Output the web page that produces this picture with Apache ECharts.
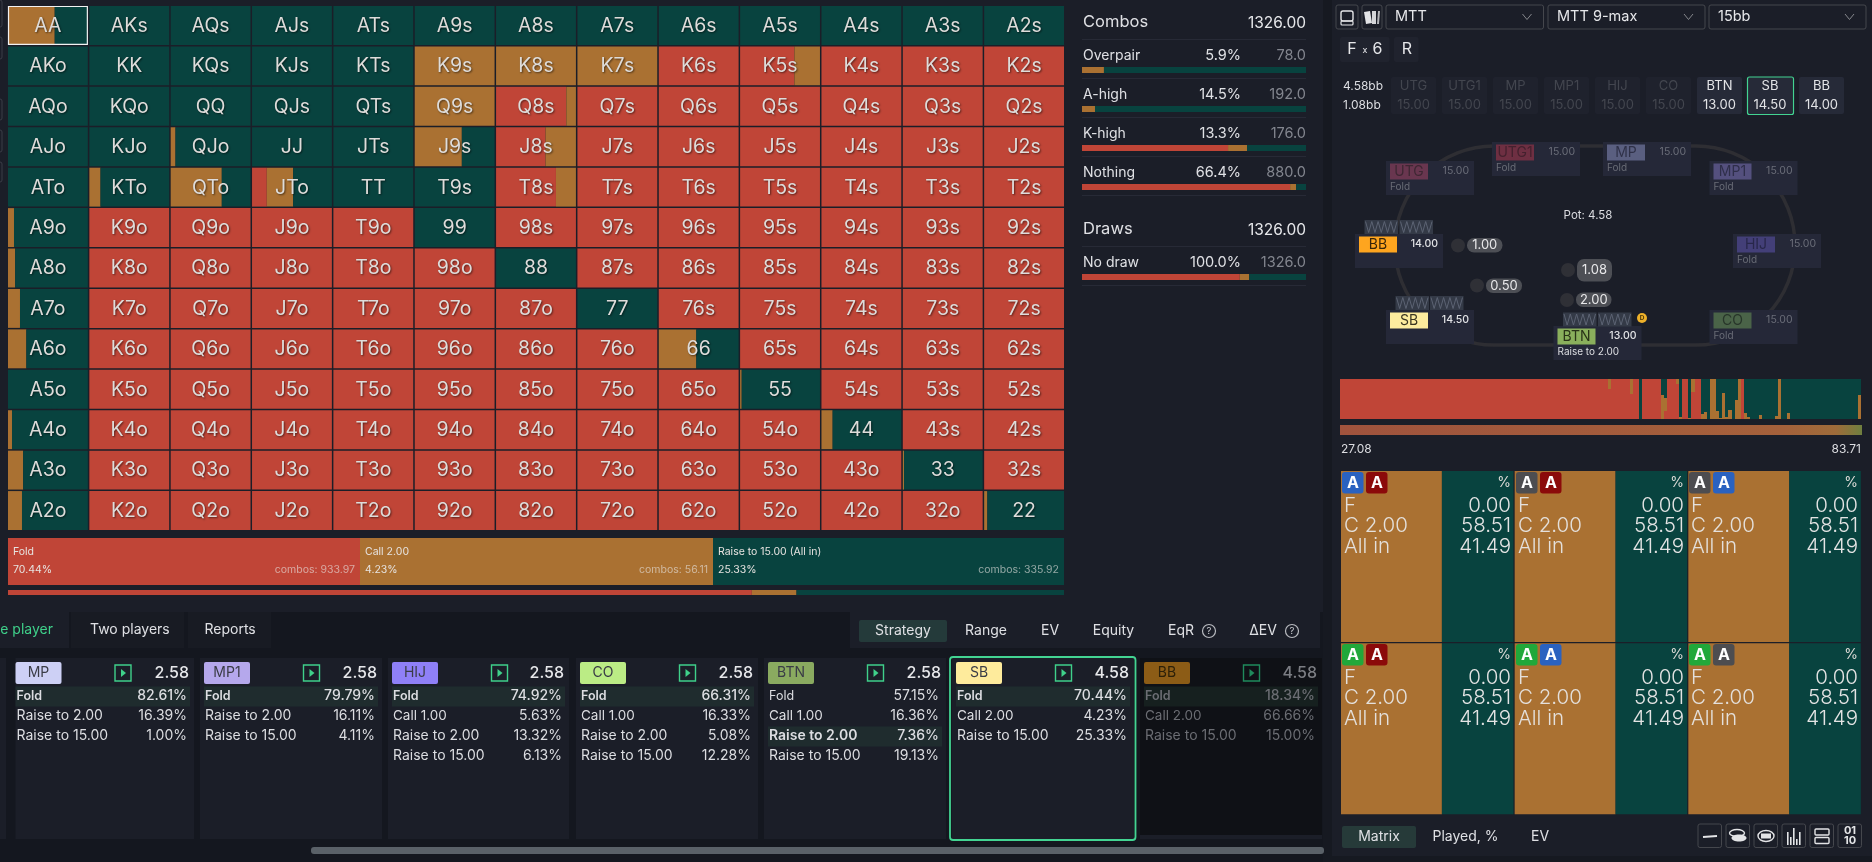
<!DOCTYPE html>
<html>
<head>
<meta charset="utf-8">
<title>Range</title>
<style>
  html, body { margin: 0; padding: 0; background: #1b1e28; }
  #chart { width: 1872px; height: 862px; }
</style>
<script src="https://cdn.jsdelivr.net/npm/echarts@6/dist/echarts.min.js"></script>
</head>
<body>
<div id="chart"></div>
<script>
const RED = '#c04537', ORANGE = '#aa7132', GREEN = '#08433f';
const FONT = 'Inter';

const ranks = ['A', 'K', 'Q', 'J', 'T', '9', '8', '7', '6', '5', '4', '3', '2'];

// share of each hand, %, the rest is the raise
const cellFold = [
  [0, 0, 0, 0, 0, 0, 0, 0, 0, 0, 0, 0, 0],
  [0, 0, 0, 0, 0, 0, 0, 0, 100, 68, 100, 100, 100],
  [0, 0, 0, 0, 0, 0, 88, 100, 100, 100, 100, 100, 100],
  [0, 0, 0, 0, 0, 0, 62, 100, 100, 100, 100, 100, 100],
  [0, 0, 0, 18.5, 0, 0, 75, 100, 100, 100, 100, 100, 100],
  [0, 100, 100, 100, 100, 0, 100, 100, 100, 100, 100, 100, 100],
  [0, 100, 100, 100, 100, 100, 0, 100, 100, 100, 100, 100, 100],
  [0, 100, 100, 100, 100, 100, 100, 0, 100, 100, 100, 100, 100],
  [0, 100, 100, 100, 100, 100, 100, 100, 0, 100, 100, 100, 100],
  [0, 100, 100, 100, 100, 100, 100, 100, 100, 0, 100, 100, 100],
  [0, 100, 100, 100, 100, 100, 100, 100, 100, 100, 0, 100, 100],
  [0, 100, 100, 100, 100, 100, 100, 100, 100, 100, 100, 0, 100],
  [0, 100, 100, 100, 100, 100, 100, 100, 100, 100, 100, 100, 0]
];
const cellCall = [
  [58.51, 0, 0, 0, 0, 0, 0, 0, 0, 0, 0, 0, 0],
  [0, 0, 0, 0, 0, 100, 100, 100, 0, 32, 0, 0, 0],
  [0, 0, 0, 0, 0, 100, 12, 0, 0, 0, 0, 0, 0],
  [0, 0, 6, 0, 0, 59, 38, 0, 0, 0, 0, 0, 0],
  [0, 14, 64, 33, 0, 0, 25, 0, 0, 0, 0, 0, 0],
  [7.5, 0, 0, 0, 0, 0, 0, 0, 0, 0, 0, 0, 0],
  [9, 0, 0, 0, 0, 0, 0, 0, 0, 0, 0, 0, 0],
  [15, 0, 0, 0, 0, 0, 0, 0, 0, 0, 0, 0, 0],
  [23, 0, 0, 0, 0, 0, 0, 0, 47, 0, 0, 0, 0],
  [0, 0, 0, 0, 0, 0, 0, 0, 0, 2, 0, 0, 0],
  [5, 0, 0, 0, 0, 0, 0, 0, 0, 0, 14, 0, 0],
  [19, 0, 0, 0, 0, 0, 0, 0, 0, 0, 0, 1.5, 0],
  [17.5, 0, 0, 0, 0, 0, 0, 0, 0, 0, 0, 0, 4]
];

// hands sorted by equity, strip above the combo matrix
const stripFold = [
  100, 100, 100, 100, 100, 100, 100, 100, 100, 100, 100, 100, 100, 100, 100, 100, 100, 100, 100, 100,
  100, 100, 100, 100, 100, 100, 100, 100, 100, 100, 100, 100, 100, 100, 100, 100, 100, 100, 100, 100,
  100, 100, 100, 100, 100, 100, 100, 100, 100, 100, 100, 100, 100, 100, 100, 100, 100, 100, 100, 100,
  100, 100, 100, 100, 100, 100, 100, 100, 100, 100, 100, 100, 100, 100, 100, 100, 100, 100, 100, 100,
  100, 100, 100, 100, 100, 100, 100, 75, 100, 100, 100, 100, 100, 100, 62, 100, 100, 0, 100, 100,
  100, 100, 100, 100, 0, 20, 100, 100, 100, 87.5, 0, 100, 100, 0, 68, 100, 100, 0, 0, 0,
  0, 0, 0, 0, 0, 0, 0, 0, 0, 0, 100, 0, 0, 0, 0, 0, 0, 0, 0, 0,
  0, 0, 0, 0, 0, 0, 0, 0, 0, 0, 0, 0, 0, 0, 0, 0, 0, 0, 0, 0,
  0, 0, 0, 0, 0, 0, 0, 0, 0
];
const stripCall = [
  0, 0, 0, 0, 0, 0, 0, 0, 0, 0, 0, 0, 0, 0, 0, 0, 0, 0, 0, 0,
  0, 0, 0, 0, 0, 0, 0, 0, 0, 0, 0, 0, 0, 0, 0, 0, 0, 0, 0, 0,
  0, 0, 0, 0, 0, 0, 0, 0, 0, 0, 0, 0, 0, 0, 0, 0, 0, 0, 0, 0,
  0, 0, 0, 0, 0, 0, 0, 0, 0, 0, 0, 0, 0, 0, 0, 0, 0, 0, 0, 0,
  0, 0, 0, 0, 0, 0, 0, 25, 0, 0, 0, 0, 0, 0, 38, 0, 0, 0, 0, 0,
  0, 0, 0, 0, 60, 32, 0, 0, 0, 12.5, 6, 0, 0, 3, 32, 0, 0, 13, 18, 0,
  100, 100, 20, 3, 65, 5, 22, 0, 48, 100, 0, 15, 6, 0, 0, 0, 10, 0, 0, 0,
  0, 8, 100, 0, 0, 15, 0, 0, 0, 0, 0, 0, 0, 0, 0, 0, 0, 0, 0, 0,
  0, 0, 0, 0, 0, 0, 0, 0, 60
];

const comboSuits = [['#2a62c0', '#8b0a0a'], ['#4d4d50', '#8b0a0a'], ['#4d4d50', '#2a62c0'],
  ['#21a83a', '#8b0a0a'], ['#21a83a', '#2a62c0'], ['#21a83a', '#4d4d50']];
const comboFold = [0, 0, 0, 0, 0, 0];
const comboCall = [58.51, 58.51, 58.51, 58.51, 58.51, 58.51];
const comboRaise = [41.49, 41.49, 41.49, 41.49, 41.49, 41.49];

const actionNames = ['Fold', 'Call 2.00', 'Raise to 15.00 (All in)'];
const actionPct = [70.44, 4.23, 25.33];
const actionCombos = [933.97, 56.11, 335.92];

const statNames = ['Overpair', 'A-high', 'K-high', 'Nothing', 'No draw'];
const statPct = ['5.9%', '14.5%', '13.3%', '66.4%', '100.0%'];
const statCombos = ['78.0', '192.0', '176.0', '880.0', '1326.0'];
const statFold = [0, 0, 65.2, 92.9, 70.44];
const statCall = [9.8, 5.8, 8.5, 2.7, 4.23];
const statRaise = [90.2, 94.2, 26.3, 4.4, 25.33];

const cardSeats = ['MP', 'MP1', 'HIJ', 'CO', 'BTN', 'SB', 'BB'];
const cardPots = ['2.58', '2.58', '2.58', '2.58', '2.58', '4.58', '4.58'];
const cardLabels = [
  ['Fold', 'Raise to 2.00', 'Raise to 15.00'],
  ['Fold', 'Raise to 2.00', 'Raise to 15.00'],
  ['Fold', 'Call 1.00', 'Raise to 2.00', 'Raise to 15.00'],
  ['Fold', 'Call 1.00', 'Raise to 2.00', 'Raise to 15.00'],
  ['Fold', 'Call 1.00', 'Raise to 2.00', 'Raise to 15.00'],
  ['Fold', 'Call 2.00', 'Raise to 15.00'],
  ['Fold', 'Call 2.00', 'Raise to 15.00']
];
const cardValues = [
  ['82.61%', '16.39%', '1.00%'],
  ['79.79%', '16.11%', '4.11%'],
  ['74.92%', '5.63%', '13.32%', '6.13%'],
  ['66.31%', '16.33%', '5.08%', '12.28%'],
  ['57.15%', '16.36%', '7.36%', '19.13%'],
  ['70.44%', '4.23%', '25.33%'],
  ['18.34%', '66.66%', '15.00%']
];
const cardPicked = [0, 0, 0, 0, 2, 0, 0];

const seatNames = ['UTG', 'UTG1', 'MP', 'MP1', 'HIJ', 'CO', 'BTN', 'SB', 'BB'];
const seatStacks = ['15.00', '15.00', '15.00', '15.00', '15.00', '15.00', '13.00', '14.50', '14.00'];
const seatActions = ['Fold', 'Fold', 'Fold', 'Fold', 'Fold', 'Fold', 'Raise to 2.00', '', ''];

const tabsLeft = ['Two players', 'Reports'];
const tabsRight = ['Strategy', 'Range', 'EV', 'Equity', 'EqR', 'ΔEV'];

// ---- helpers for the app chrome around the charts
function rect(x, y, w, h, fill, extra) {
  return {
    type: 'rect', silent: true,
    shape: { x: x, y: y, width: w, height: h, r: (extra && extra.r) || 0 },
    style: { fill: fill, stroke: extra && extra.stroke, lineWidth: extra && extra.lw }
  };
}
function text(x, y, str, size, color, align, weight) {
  return {
    type: 'text', silent: true,
    style: {
      x: x, y: y, text: str, fill: color || '#dfe0e4',
      font: (weight || 400) + ' ' + size + 'px ' + FONT,
      align: align || 'left', verticalAlign: 'middle'
    }
  };
}
function circle(cx, cy, r, fill, stroke) {
  return { type: 'circle', silent: true, shape: { cx: cx, cy: cy, r: r }, style: { fill: fill, stroke: stroke, lineWidth: 1.2 } };
}
function line(points, stroke, lw) {
  return { type: 'polyline', silent: true, shape: { points: points }, style: { fill: null, stroke: stroke, lineWidth: lw || 1 } };
}

const under = [];
const over = [];

// page zones
under.push(rect(0, 612, 1323, 250, '#14171f'));
under.push(rect(1323, 0, 9, 862, '#161921'));
under.push(rect(1332, 856, 540, 6, '#161921'));
[[0, 27], [37, 59], [99, 120], [130, 152], [162, 182]].forEach(function (s) {
  under.push(rect(-4, s[0], 6, s[1] - s[0], 'none', { stroke: '#3a3d47', lw: 1, r: 2 }));
});

// action tiles above the thin total strip
const tileX = [8, 360, 713, 1064];
[RED, ORANGE, GREEN].forEach(function (c, i) {
  under.push(rect(tileX[i], 538, tileX[i + 1] - tileX[i], 47, c));
  over.push(text(tileX[i] + 5, 552, actionNames[i], 10.5, '#e6e3e0'));
  over.push(text(tileX[i] + 5, 570, actionPct[i].toFixed(2) + '%', 10.5, '#e6e3e0'));
  over.push(text(tileX[i + 1] - 5, 570, 'combos: ' + actionCombos[i].toFixed(2), 10.5, 'rgba(230,228,225,0.62)', 'right'));
});

// stats column
const statY = [56, 95, 134, 173, 263];
over.push(text(1083, 22, 'Combos', 16.5));
over.push(text(1306, 23, '1326.00', 15.5, '#e6e7ea', 'right'));
over.push(text(1083, 229, 'Draws', 16.5));
over.push(text(1306, 230, '1326.00', 15.5, '#e6e7ea', 'right'));
[39, 78, 117, 156, 195, 246, 285].forEach(function (y) {
  under.push(rect(1082, y, 224, 1, '#272a36'));
});
statNames.forEach(function (name, i) {
  over.push(text(1083, statY[i], name, 14));
  over.push(text(1241, statY[i], statPct[i], 14.5, '#e0e1e5', 'right'));
  over.push(text(1306, statY[i], statCombos[i], 14.5, '#83868f', 'right'));
});

// tab bars
under.push(rect(0, 612, 69, 36, '#1b1e28'));
under.push(rect(71, 612, 113, 36, '#181b23'));
under.push(rect(188, 612, 83, 36, '#181b23'));
under.push(rect(850, 612, 470, 36, '#1b1e28'));
under.push(rect(859, 620, 88, 22, '#243a3a', { r: 2 }));
over.push(text(53, 630, 'One player', 14, '#3fd08a', 'right'));
over.push(text(90, 630, tabsLeft[0], 14));
over.push(text(204.5, 630, tabsLeft[1], 14));
[903, 986, 1050, 1113.5, 1181, 1263].forEach(function (x, i) {
  over.push(text(x, 631, tabsRight[i], 14, '#dfe0e4', 'center'));
});
[1209, 1292].forEach(function (x) {
  over.push(circle(x, 631, 6.5, 'none', '#b9bbc0'));
  over.push(text(x, 631, '?', 9.5, '#c9cbd0', 'center'));
});

// scrollbar
under.push(rect(311, 847, 1013, 7, '#5a6168', { r: 3 }));

// strategy cards
const cardX = [[15.5, 194], [200, 382], [388, 569], [576, 758], [764, 946], [952, 1134], [1140, 1322]];
const cardTag = ['#cdd0f5', '#b5a8ec', '#8f80f7', '#bbec85', '#8aaa60', '#feeb9c', '#8c5c16'];
function rowSize(lab) {
  if (lab === 'Fold') { return 12.5; }
  return lab.indexOf('Call') === 0 ? 13.5 : 14;
}
under.push(rect(0, 658, 6, 181, '#1b1e28'));
cardSeats.forEach(function (name, i) {
  const x = cardX[i][0], x2 = cardX[i][1];
  const dim = i === 6;
  under.push(rect(x, 658, x2 - x, dim ? 177 : 181, dim ? '#0f1116' : '#1b1e28'));
  if (dim) { under.push(rect(x, 835, x2 - x, 4, '#1b1e28')); }
  const pad = i > 0 ? 4 : 0;
  under.push(rect(x + pad, 662, 46, 22, cardTag[i], { r: 2 }));
  over.push(text(x + pad + 23, 673, name, 14, dim ? '#2c2008' : '#3a3c46', 'center'));
  const green = dim ? '#1f8a5c' : '#3fd08a';
  const ix = x + pad + 99.5;
  over.push(rect(ix, 665, 16, 16, 'none', { stroke: green, lw: 1.4 }));
  over.push({ type: 'polygon', silent: true, shape: { points: [[ix + 6, 669], [ix + 11, 673], [ix + 6, 677]] }, style: { fill: green } });
  over.push(text(x2 - 5, 673, cardPots[i], 16, dim ? '#7b7d83' : '#e6e7ea', 'right', 500));
  cardLabels[i].forEach(function (lab, r) {
    const y = 696 + r * 20;
    const picked = cardPicked[i] === r;
    if (picked) {
      under.push(rect(x + pad, y - 9.5, x2 - x - pad - 4, 20, dim ? '#16201f' : '#1f2c2e'));
    }
    const col = dim ? '#6b6d73' : '#dcdde1';
    over.push(text(x + pad + 1, y, lab, rowSize(lab), col, 'left', picked ? 600 : 400));
    over.push(text(x2 - 7, y, cardValues[i][r], 14, col, 'right', picked ? 500 : 400));
  });
});
over.push(rect(950, 657, 185.5, 183, 'none', { stroke: '#43d492', lw: 1.8, r: 3 }));

// top right selectors
[[1336, 22], [1362, 20]].forEach(function (b) {
  under.push(rect(b[0], 5, b[1], 24, 'none', { stroke: '#45474d', lw: 1, r: 2 }));
});
over.push(rect(1341, 11, 12, 10, 'none', { stroke: '#e3e4e6', lw: 1.4, r: 2 }));
over.push(rect(1341, 21, 12, 4, 'none', { stroke: '#e3e4e6', lw: 1.2, r: 1 }));
over.push({ type: 'polygon', silent: true, shape: { points: [[1364, 12], [1370, 11], [1372, 23], [1366, 24]] }, style: { fill: '#e3e4e6' } });
over.push({ type: 'polygon', silent: true, shape: { points: [[1372, 11], [1376, 11], [1376, 24], [1372, 24]] }, style: { fill: '#d4d5d8' } });
over.push({ type: 'polygon', silent: true, shape: { points: [[1378, 11], [1380, 11], [1379, 24], [1377, 24]] }, style: { fill: '#b5b6ba' } });
[[1386, 1543.5, 'MTT'], [1548, 1705, 'MTT 9-max'], [1709, 1866, '15bb']].forEach(function (d) {
  under.push(rect(d[0], 5, d[1] - d[0], 24, 'none', { stroke: '#45474d', lw: 1, r: 2 }));
  over.push(text(d[0] + 9, 17, d[2], 14.5, '#e6e7ea'));
  over.push(line([[d[1] - 21, 14], [d[1] - 16.5, 19.5], [d[1] - 12, 14]], '#85878c', 1));
});
under.push(rect(1340, 37, 49.5, 25, '#20232e', { r: 2 }));
under.push(rect(1394, 37, 24.5, 25, '#20232e', { r: 2 }));
over.push(text(1352, 49, 'F', 16, '#e6e7ea', 'center'));
over.push(text(1365, 50, 'x', 9, '#e6e7ea', 'center'));
over.push(text(1377.5, 49, '6', 16, '#e6e7ea', 'center'));
over.push(text(1407, 49, 'R', 16, '#e6e7ea', 'center'));

// seat stacks row
over.push(text(1343, 86, '4.58bb', 12, '#dcdde1'));
over.push(text(1343, 105, '1.08bb', 12, '#dcdde1'));
const seatCx = [1413.5, 1464.5, 1515.5, 1566.5, 1617.5, 1668.5, 1719.5, 1770, 1821.5];
seatNames.forEach(function (s, i) {
  const live = i >= 6;
  under.push(rect(seatCx[i] - 22.5, 77, 45, 37, live ? '#262a38' : '#1f222d', { r: 2 }));
  over.push(text(seatCx[i], 86, s, 13, live ? '#e2e3e6' : '#43464f', 'center'));
  over.push(text(seatCx[i], 105, seatStacks[i], 13, live ? '#e2e3e6' : '#43464f', 'center'));
});
over.push(rect(1747.5, 77, 46, 37.5, 'none', { stroke: '#43d492', lw: 1.2, r: 2 }));

// table
under.push(rect(1395, 146, 400, 199, 'none', { stroke: '#2e2e33', lw: 3.5, r: 99 }));
const seatBox = [[1386, 161], [1492, 142], [1603, 142], [1709.5, 161], [1733, 234], [1709.5, 310], [1553.5, 326], [1386, 310], [1355, 234]];
const seatTag = ['#69364f', '#6e2f42', '#5a5f80', '#54507e', '#433f78', '#4a6348', '#8aaf5c', '#fdec9e', '#fea51f'];
const seatTagText = ['#3e2733', '#44212e', '#2f3148', '#2f2f4a', '#28274a', '#28362a', '#2a3318', '#3a3520', '#3a2608'];
seatNames.forEach(function (s, i) {
  const b = seatBox[i];
  const live = i >= 6;
  under.push(rect(b[0], b[1], 88, 34, '#252838'));
  under.push(rect(b[0] + 4, b[1] + 2.5, 38, 16, seatTag[i]));
  over.push(text(b[0] + 23, b[1] + 10.5, s, 14, seatTagText[i], 'center'));
  over.push(text(b[0] + 83, b[1] + 10, seatStacks[i], 10.5, live ? '#e2e3e6' : '#6a6d78', 'right', live ? 500 : 400));
  if (seatActions[i]) {
    over.push(text(b[0] + 4, b[1] + 26, seatActions[i], 10, live ? '#dcdde1' : '#696c76'));
  }
});
// hole cards
[[1364.5, 220], [1399.5, 220], [1395.5, 296], [1430, 296], [1563, 312.5], [1598, 312.5]].forEach(function (c) {
  under.push(rect(c[0], c[1], 33.5, 14, '#343a47'));
  const zig = [];
  for (let k = 0; k <= 10; k++) { zig.push([c[0] + 1 + k * 3.15, c[1] + (k % 2 ? 12.5 : 1.5)]); }
  under.push(line(zig, '#5c6373', 1));
});
over.push(circle(1642, 318, 5, '#eeb12a'));
over.push(text(1642, 318.5, 'D', 6.5, '#4a3608', 'center', 700));
// bets
[[1458, 245.5, 1467, 238, 35.5, 14.5, '1.00'], [1477, 285.5, 1486, 278.5, 36, 14.5, '0.50'],
  [1568, 270, 1577, 259, 35, 22.5, '1.08'], [1567, 300, 1576, 292.5, 35.5, 14.5, '2.00']].forEach(function (b) {
  over.push(circle(b[0], b[1], 7, '#2f3036'));
  over.push(rect(b[2], b[3], b[4], b[5], '#4d4f55', { r: 7 }));
  over.push(text(b[2] + b[4] / 2, b[3] + b[5] / 2, b[6], 13, '#e8e8ea', 'center'));
});
over.push(text(1588, 216, 'Pot: 4.58', 11.5, '#dcdde1', 'center'));

// equity gradient and its range
under.push({
  type: 'rect', silent: true, shape: { x: 1340, y: 425, width: 522, height: 10 },
  style: {
    fill: new echarts.graphic.LinearGradient(0, 0, 1, 0, [
      { offset: 0, color: '#a0533d' }, { offset: 0.85, color: '#a5613b' },
      { offset: 0.95, color: '#9e6c3a' }, { offset: 1, color: '#6f7f3f' }
    ])
  }
});
over.push(text(1341, 449, '27.08', 12, '#dcdde1'));
over.push(text(1861, 449, '83.71', 12, '#dcdde1', 'right'));

// combo matrix texts
const comboX = [1341, 1515, 1688, 1341, 1515, 1688];
const comboY = [471, 471, 471, 643, 643, 643];
const comboW = [173, 172, 173, 173, 172, 173];
comboSuits.forEach(function (pair, i) {
  const x = comboX[i], y = comboY[i], right = x + comboW[i];
  [0, 1].forEach(function (k) {
    over.push(rect(x + 1 + k * 24, y + 1, 21.5, 21.5, pair[k], { r: 3 }));
    over.push(text(x + 12 + k * 24, y + 12, 'A', 16, '#ffffff', 'center', 700));
  });
  over.push(text(right - 3, y + 12, '%', 14, '#dedcd8', 'right'));
  over.push(text(x + 3, y + 35, 'F', 20.5, '#e4e0dc', 'left', 300));
  over.push(text(x + 3, y + 55, 'C 2.00', 20.5, '#e4e0dc', 'left', 300));
  over.push(text(x + 3, y + 76, 'All in', 20.5, '#e4e0dc', 'left', 300));
  over.push(text(right - 3, y + 35, comboFold[i].toFixed(2), 20.5, '#e4e4e4', 'right', 300));
  over.push(text(right - 3, y + 55, comboCall[i].toFixed(2), 20.5, '#e4e4e4', 'right', 300));
  over.push(text(right - 3, y + 76, comboRaise[i].toFixed(2), 20.5, '#e4e4e4', 'right', 300));
});

// bottom right tabs and view icons
under.push(rect(1342, 826, 74, 22, '#263a39', { r: 2 }));
over.push(text(1379, 837, 'Matrix', 14, '#dfe0e4', 'center'));
over.push(text(1465.5, 837, 'Played, %', 14, '#dfe0e4', 'center'));
over.push(text(1540, 837, 'EV', 14, '#dfe0e4', 'center'));
[1698, 1726, 1754, 1782, 1810, 1838].forEach(function (x) {
  under.push(rect(x, 824, 23.5, 23.5, 'none', { stroke: '#45474d', lw: 1, r: 2 }));
});
over.push(line([[1703, 837], [1717, 836]], '#e3e4e6', 2));
over.push({ type: 'ellipse', silent: true, shape: { cx: 1737, cy: 833, rx: 7.5, ry: 3.5 }, style: { fill: 'none', stroke: '#e3e4e6', lineWidth: 1.4 } });
over.push({ type: 'ellipse', silent: true, shape: { cx: 1739, cy: 838, rx: 7.5, ry: 3.5 }, style: { fill: '#e3e4e6' } });
over.push({ type: 'ellipse', silent: true, shape: { cx: 1766, cy: 836, rx: 8, ry: 5.5 }, style: { fill: 'none', stroke: '#e3e4e6', lineWidth: 1.4 } });
over.push(rect(1761, 833.5, 10, 5, '#e3e4e6'));
[[1787, 10], [1790, 5], [1793, 14], [1796, 3], [1799, 10]].forEach(function (b) {
  over.push(rect(b[0], 845 - (b[1] + 3), 1.6, b[1] + 3, '#e3e4e6'));
});
over.push(rect(1815, 829, 14, 6, 'none', { stroke: '#e3e4e6', lw: 1.4, r: 1 }));
over.push(rect(1815, 837.5, 14, 6, 'none', { stroke: '#e3e4e6', lw: 1.4, r: 1 }));
over.push(text(1850, 831, '01', 11, '#e3e4e6', 'center', 700));
over.push(text(1850, 841, '10', 11, '#e3e4e6', 'center', 700));

// ---- charts
const grids = [], xAxes = [], yAxes = [], series = [];

function addGrid(x, y, w, h, xa, ya) {
  const idx = grids.length;
  grids.push({ left: x, top: y, width: w, height: h, show: false });
  xAxes.push(Object.assign({ gridIndex: idx, show: false }, xa));
  yAxes.push(Object.assign({ gridIndex: idx, show: false }, ya));
  return idx;
}

// cells split left to right into fold, call and raise
function splitCell(labels, labelSize, gap) {
  return function (params, api) {
    const c = api.value(0), r = api.value(1);
    const p0 = api.coord([c, r]);
    const p1 = api.coord([c + 1, r + 1]);
    const x = p0[0], y = p0[1], w = p1[0] - p0[0] - gap, h = p1[1] - p0[1] - gap;
    const children = [];
    let cur = x;
    [[api.value(2), RED], [api.value(3), ORANGE], [api.value(4), GREEN]].forEach(function (part) {
      if (part[0] <= 0) { return; }
      const pw = w * part[0] / 100;
      children.push({ type: 'rect', shape: { x: cur, y: y, width: pw, height: h }, style: { fill: part[1] } });
      cur += pw;
    });
    if (labels) {
      children.push({
        type: 'text',
        style: {
          x: x + w / 2, y: y + h / 2 + 0.5, text: labels[params.dataIndex],
          fill: '#dedcda', font: '400 ' + labelSize + 'px ' + FONT,
          align: 'center', verticalAlign: 'middle',
          textShadowColor: 'rgba(0,0,0,0.55)', textShadowBlur: 2, textShadowOffsetX: 1, textShadowOffsetY: 1
        }
      });
    }
    // the hand in the first cell is the selected one
    if (labels && params.dataIndex === 0) {
      children.push({ type: 'rect', shape: { x: x + 0.5, y: y + 0.5, width: w - 1, height: h - 1 }, style: { fill: 'none', stroke: '#f2f2f2', lineWidth: 1.2 } });
    }
    return { type: 'group', children: children };
  };
}

function handName(r, c) {
  if (r === c) { return ranks[r] + ranks[c]; }
  return r < c ? ranks[r] + ranks[c] + 's' : ranks[c] + ranks[r] + 'o';
}

const cellData = [], cellNames = [];
ranks.forEach(function (_, r) {
  ranks.forEach(function (_, c) {
    const f = cellFold[r][c], k = cellCall[r][c];
    cellData.push([c, r, f, k, 100 - f - k]);
    cellNames.push(handName(r, c));
  });
});

const gMatrix = addGrid(8, 6, 1057.5, 525.5,
  { type: 'value', min: 0, max: 13 }, { type: 'value', min: 0, max: 13, inverse: true });
series.push({
  type: 'custom', xAxisIndex: gMatrix, yAxisIndex: gMatrix, silent: true, clip: false, animation: false,
  renderItem: splitCell(cellNames, 19.5, 1.5), encode: { x: 0, y: 1 }, data: cellData, z: 3
});

const comboData = comboCall.map(function (k, i) {
  return [i % 3, i < 3 ? 0 : 1, comboFold[i], k, comboRaise[i]];
});
const gCombo = addGrid(1341, 471, 521, 344.5,
  { type: 'value', min: 0, max: 3 }, { type: 'value', min: 0, max: 2, inverse: true });
series.push({
  type: 'custom', xAxisIndex: gCombo, yAxisIndex: gCombo, silent: true, clip: false, animation: false,
  renderItem: splitCell(null, 0, 1.2), encode: { x: 0, y: 1 }, data: comboData, z: 3
});

// 100% stacked strip across a single category
function addStrip(x, y, w, h, f, c, r) {
  const g = addGrid(x, y, w, h, { type: 'value', min: 0, max: 100 }, { type: 'category', data: ['all'] });
  [[f, RED], [c, ORANGE], [r, GREEN]].forEach(function (p) {
    series.push({
      type: 'bar', xAxisIndex: g, yAxisIndex: g, stack: 's' + g, barWidth: '100%', silent: true,
      itemStyle: { color: p[1] }, data: [p[0]], animation: false
    });
  });
}
addStrip(8, 590, 1056, 5, actionPct[0], actionPct[1], actionPct[2]);
[67, 106, 145, 184, 274].forEach(function (y, i) {
  addStrip(1082, y, 224, 6, statFold[i], statCall[i], statRaise[i]);
});

// hands by equity, column edges snapped to whole pixels so no seams show
const stripData = stripFold.map(function (f, i) { return [i, f, stripCall[i]]; });
const gStrip = addGrid(1340, 379, 521, 40,
  { type: 'value', min: 0, max: stripFold.length }, { type: 'value', min: 0, max: 100 });
series.push({
  type: 'custom', xAxisIndex: gStrip, yAxisIndex: gStrip, silent: true, clip: false, animation: false,
  encode: { x: 0, y: 1 }, data: stripData, z: 3,
  renderItem: function (params, api) {
    const i = api.value(0), f = api.value(1), k = api.value(2);
    const x0 = Math.round(api.coord([i, 0])[0]);
    const x1 = Math.round(api.coord([i + 1, 0])[0]);
    const yAt = function (v) { return Math.round(api.coord([i, v])[1]); };
    const parts = [[0, f, RED], [f, f + k, ORANGE], [f + k, 100, GREEN]];
    return {
      type: 'group',
      children: parts.filter(function (p) { return p[1] > p[0]; }).map(function (p) {
        return {
          type: 'rect',
          shape: { x: x0, y: yAt(p[1]), width: x1 - x0, height: yAt(p[0]) - yAt(p[1]) },
          style: { fill: p[2] }
        };
      })
    };
  }
});

over.forEach(function (el) { el.z = 50; });
under.forEach(function (el) { el.z = 0; });

const chart = echarts.init(document.getElementById('chart'));
chart.setOption({
  backgroundColor: '#1b1e28',
  animation: false,
  grid: grids,
  xAxis: xAxes,
  yAxis: yAxes,
  series: series,
  graphic: { elements: under.concat(over) }
});
</script>
</body>
</html>
